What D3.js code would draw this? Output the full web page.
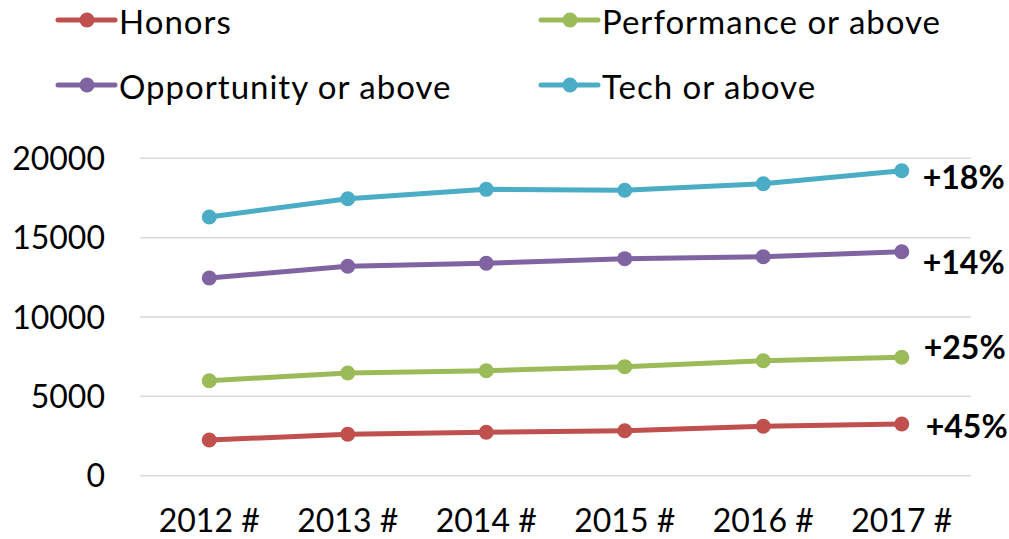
<!DOCTYPE html>
<html>
<head>
<meta charset="utf-8">
<script src="https://cdn.jsdelivr.net/npm/d3@7"></script>
<style>
  html, body { margin: 0; padding: 0; background: #fff; }
  svg { display: block; font-family: Lato, "Open Sans", sans-serif; }
</style>
</head>
<body>
<svg id="chart" width="1009" height="539"></svg>
<script>
// ---- data ----
const years = ["2012 #", "2013 #", "2014 #", "2015 #", "2016 #", "2017 #"];
const honors      = [2250, 2610, 2735, 2835, 3115, 3260];
const performance = [5985, 6470, 6615, 6870, 7245, 7460];
const opportunity = [12455, 13195, 13385, 13675, 13800, 14115];
const tech        = [16300, 17455, 18045, 17985, 18400, 19220];
const seriesNames = ["Honors", "Performance or above", "Opportunity or above", "Tech or above"];
const changeLabels = ["+45%", "+25%", "+14%", "+18%"];
const yTicks = [0, 5000, 10000, 15000, 20000];

// ---- styles / layout ----
const colors = ["#C0504D", "#9BBB59", "#8064A2", "#4BACC6"];
const labelDy = [3, -10, 11, 7];
const labelDx = [24, 22, 21, 21];
const legendPos = [[58, 20], [541, 20], [58, 85], [541, 85]];

const seriesValues = [honors, performance, opportunity, tech];
const series = seriesNames.map((name, i) => ({
  name, color: colors[i], label: changeLabels[i],
  values: seriesValues[i].map((v, j) => ({ year: years[j], value: v }))
}));

const svg = d3.select("#chart");
const plot = { left: 140, right: 971, top: 158.3, bottom: 475.7 };

const x = d3.scaleBand().domain(years).range([plot.left, plot.right]).paddingInner(0).paddingOuter(0);
const y = d3.scaleLinear().domain([0, 20000]).range([plot.bottom, plot.top]);
const cx = d => x(d) + x.bandwidth() / 2;

// gridlines
svg.append("g").selectAll("line").data(yTicks).join("line")
  .attr("x1", plot.left).attr("x2", plot.right)
  .attr("y1", d => y(d)).attr("y2", d => y(d))
  .attr("stroke", "#D9D9D9").attr("stroke-width", 1.5);

// y axis labels
const yAxis = d3.axisLeft(y).tickValues(yTicks).tickSize(0).tickPadding(0).tickFormat(d3.format("d"));
const yg = svg.append("g").attr("transform", `translate(${105},0)`).call(yAxis);
yg.select(".domain").remove();
yg.selectAll("text").attr("font-size", 32).attr("fill", "#000").attr("font-family", "Lato, sans-serif")
  .attr("dy", "0.35em");

// x axis labels
const xAxis = d3.axisBottom(x).tickSize(0).tickPadding(0);
const xg = svg.append("g").attr("transform", `translate(0,${508})`).call(xAxis);
xg.select(".domain").remove();
xg.selectAll("text").attr("font-size", 32).attr("fill", "#000").attr("font-family", "Lato, sans-serif")
  .attr("dy", "0.35em").attr("y", 13);

// lines
const line = d3.line().x(d => cx(d.year)).y(d => y(d.value));
const sg = svg.append("g").selectAll("g").data(series).join("g");
sg.append("path").attr("d", d => line(d.values))
  .attr("fill", "none").attr("stroke", d => d.color).attr("stroke-width", 5)
  .attr("stroke-linejoin", "round").attr("stroke-linecap", "round");
sg.selectAll("circle").data(d => d.values.map(v => ({ ...v, color: d.color }))).join("circle")
  .attr("cx", d => cx(d.year)).attr("cy", d => y(d.value)).attr("r", 7.5)
  .attr("fill", d => d.color);

// change labels
sg.append("text")
  .attr("x", (d, i) => cx(years[years.length - 1]) + labelDx[i])
  .attr("y", (d, i) => y(d.values[d.values.length - 1].value) + labelDy[i])
  .attr("dy", "0.35em")
  .attr("font-size", 32).attr("font-weight", "bold").attr("fill", "#000")
  .text(d => d.label);

// legend
const lg = svg.append("g").selectAll("g").data(series).join("g")
  .attr("transform", (d, i) => `translate(${legendPos[i][0]},${legendPos[i][1]})`);
lg.append("line").attr("x1", 0).attr("x2", 57).attr("y1", 0).attr("y2", 0)
  .attr("stroke", d => d.color).attr("stroke-width", 5).attr("stroke-linecap", "round");
lg.append("circle").attr("cx", 29).attr("cy", 0).attr("r", 7.5).attr("fill", d => d.color);
lg.append("text").attr("x", 61).attr("y", 2).attr("dy", "0.35em")
  .attr("font-size", 33).attr("letter-spacing", 1).attr("fill", "#000").text(d => d.name);
</script>
</body>
</html>
